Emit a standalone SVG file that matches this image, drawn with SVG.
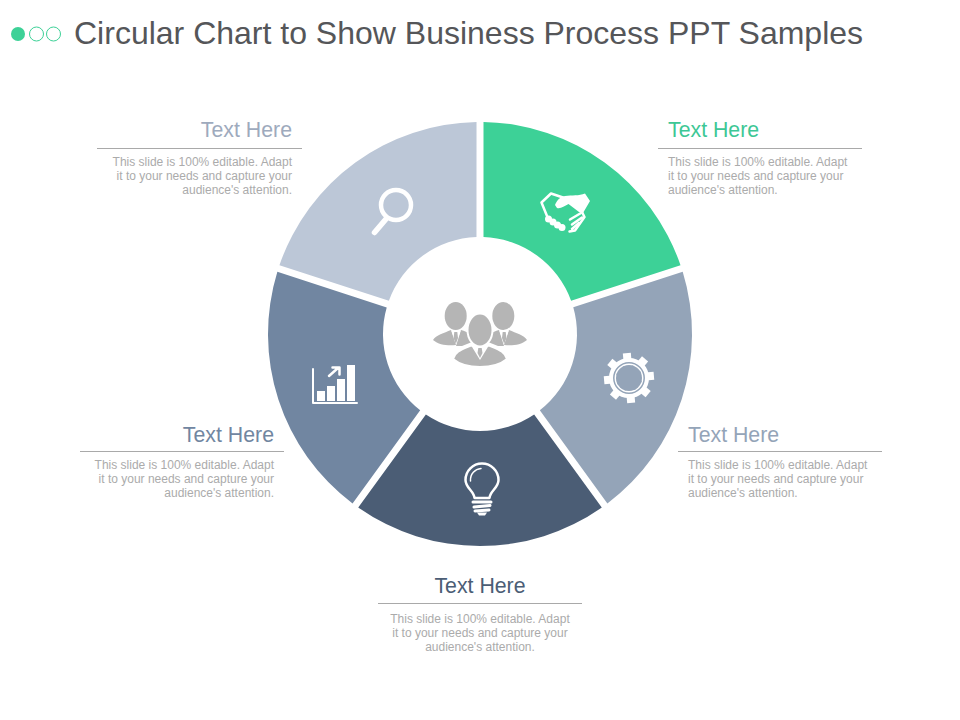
<svg xmlns="http://www.w3.org/2000/svg" width="960" height="720" viewBox="0 0 960 720">
<style>
text{font-family:"Liberation Sans",Arial,sans-serif}
.title{font-size:32px;fill:#555659}
.h{font-size:21.3px}
.b{font-size:12px;fill:#ababab}
.e{text-anchor:end}
.m{text-anchor:middle}
.rule{stroke:#a9a9a9;stroke-width:1;fill:none}
.w{fill:#fff;stroke:none}
.ws{fill:none;stroke:#fff;stroke-linecap:round;stroke-linejoin:round}
.g{fill:#b5b5b5}
</style>
<defs>
<path id="sector" d="M483.500 122A212 212 0 0 1 680.500 265.200L571.100 300.700A97 97 0 0 0 483.500 237.060Z"/>
</defs>
<rect width="960" height="720" fill="#fff"/>
<g id="header">
<circle cx="18" cy="34" r="7" fill="#3dd197"/>
<circle cx="36.500" cy="34" r="7" fill="none" stroke="#3dd197" stroke-width="1"/>
<circle cx="53.500" cy="34" r="7" fill="none" stroke="#3dd197" stroke-width="1"/>
<text class="title" x="74" y="44">Circular Chart to Show Business Process PPT Samples</text>
</g>
<g id="node-partnership">
<use href="#sector" fill="#3dd197"/>
<g id="icon-handshake">
<path class="w" d="M555 205C557 200 560 197 565 196C572 195 579 196 585 193.500L590 201L583 213L579 212L568.500 204C564 206 561 209 557 208Z"/>
<path class="ws" stroke-width="2.500" d="M563 197.500L551 193.500L541.500 202.500L547 216"/>
<circle class="w" cx="548.500" cy="219" r="3.500"/><circle class="w" cx="553" cy="222" r="3.500"/><circle class="w" cx="557.500" cy="225" r="3.500"/><circle class="w" cx="562" cy="227.500" r="3.500"/>
<path class="ws" stroke-width="2.500" d="M582 212L584.500 217L575 230.500L569.500 231.500"/>
<path class="ws" stroke-width="2.500" d="M570 219.500L581 213M572 224.500L582 217.500M572 229L579 223"/>
</g>
<text class="h" x="668" y="136.700" fill="#3dc795">Text Here</text>
<path class="rule" d="M658 148.500H862"/>
<text class="b" x="668" y="166">This slide is 100% editable. Adapt</text>
<text class="b" x="668" y="180">it to your needs and capture your</text>
<text class="b" x="668" y="194">audience's attention.</text>
</g>
<g id="node-settings">
<use href="#sector" fill="#94a4b8" transform="rotate(72 480 334)"/>
<g id="icon-gear" transform="translate(629 378)">
<g class="w">
<rect x="-4" y="-25" width="8" height="50" transform="rotate(-5)"/>
<rect x="-4" y="-25" width="8" height="50" transform="rotate(40)"/>
<rect x="-4" y="-25" width="8" height="50" transform="rotate(85)"/>
<rect x="-4" y="-25" width="8" height="50" transform="rotate(130)"/>
</g>
<circle r="16.500" fill="none" stroke="#fff" stroke-width="7"/>
<circle r="15.200" fill="none" stroke="#94a4b8" stroke-width="1.500"/>
<circle r="13" fill="#94a4b8"/>
</g>
<text class="h" x="688" y="442" fill="#94a4b8">Text Here</text>
<path class="rule" d="M678 451.500H882"/>
<text class="b" x="688" y="469">This slide is 100% editable. Adapt</text>
<text class="b" x="688" y="483">it to your needs and capture your</text>
<text class="b" x="688" y="497">audience's attention.</text>
</g>
<g id="node-idea">
<use href="#sector" fill="#4b5d75" transform="rotate(144 480 334)"/>
<g id="icon-bulb">
<path class="ws" stroke-width="2.500" d="M474.500 498C474 491 465.500 488 465.500 480A16.500 16.500 0 0 1 498.500 480C498.500 488 490 491 489.500 498Z"/>
<path class="ws" stroke-width="1.500" d="M470.500 481C470 474 475 469 481 468.500"/>
<path class="ws" stroke-width="3" stroke-linecap="butt" d="M473 502H491M474 507L490 505.500M475 511L489 510"/>
<path class="w" d="M477 512.500H487L485 515.500H479Z"/>
</g>
<text class="h m" x="480" y="592.700" fill="#4b5d75">Text Here</text>
<path class="rule" d="M378 603.500H582"/>
<text class="b m" x="480" y="623">This slide is 100% editable. Adapt</text>
<text class="b m" x="480" y="637">it to your needs and capture your</text>
<text class="b m" x="480" y="651">audience's attention.</text>
</g>
<g id="node-growth">
<use href="#sector" fill="#7186a1" transform="rotate(216 480 334)"/>
<g id="icon-chart">
<path class="ws" stroke-width="2" stroke-linecap="butt" stroke-linejoin="miter" d="M313 369V403H357"/>
<rect class="w" x="317" y="391" width="8" height="10"/>
<rect class="w" x="327" y="386" width="8" height="15"/>
<rect class="w" x="337" y="379" width="8" height="22"/>
<rect class="w" x="347" y="365" width="8" height="36"/>
<path class="ws" stroke-width="2.500" stroke-linecap="butt" stroke-linejoin="miter" d="M329 376L338 368M332.500 367.500H339.500V374.500"/>
</g>
<text class="h e" x="274" y="442" fill="#7186a1">Text Here</text>
<path class="rule" d="M80 451.500H284"/>
<text class="b e" x="274" y="469">This slide is 100% editable. Adapt</text>
<text class="b e" x="274" y="483">it to your needs and capture your</text>
<text class="b e" x="274" y="497">audience's attention.</text>
</g>
<g id="node-search">
<use href="#sector" fill="#bcc7d7" transform="rotate(288 480 334)"/>
<g id="icon-magnifier">
<circle class="ws" cx="396" cy="205" r="15" stroke-width="4.500"/>
<path class="ws" stroke-width="5.500" d="M386 219L374.500 232.500"/>
</g>
<text class="h e" x="292" y="136.700" fill="#9eaabd">Text Here</text>
<path class="rule" d="M97 148.500H302"/>
<text class="b e" x="292" y="166">This slide is 100% editable. Adapt</text>
<text class="b e" x="292" y="180">it to your needs and capture your</text>
<text class="b e" x="292" y="194">audience's attention.</text>
</g>
<g id="node-team">
<path class="g" d="M433 340C436 335 444 333 451 330L456 345C448 346 439 345 433 340Z"/>
<path class="g" d="M461 330C468 332 473 335 477 340L462 346H456Z"/>
<ellipse class="g" cx="455.700" cy="316" rx="11" ry="14"/>
<path class="g" d="M527 340C524 335 516 333 509 330L504 345C512 346 521 345 527 340Z"/>
<path class="g" d="M499 330C492 332 487 335 483 340L498 346H504Z"/>
<ellipse class="g" cx="503.300" cy="316" rx="11" ry="14"/>
<path class="w" d="M451.500 331L456 344L460.500 331ZM499.500 331L504 344L508.500 331Z"/>
<path class="g" d="M454.300 332H457.300L458 338L455.800 344L453.600 338ZM502.700 332H505.700L506.400 338L504.200 344L502 338Z"/>
<path class="g" stroke="#fff" stroke-width="2" d="M453 359C455 351 463 349 472 345L480 358L488 345C497 349 505 351 507 359C501 364 491 367 480 367C469 367 459 364 453 359Z"/>
<ellipse class="g" stroke="#fff" stroke-width="2" cx="480" cy="330" rx="12.500" ry="16.500"/>
<path class="g" d="M478.300 348H481.700L482.500 353L480 358L477.500 353Z"/>
</g>
</svg>
